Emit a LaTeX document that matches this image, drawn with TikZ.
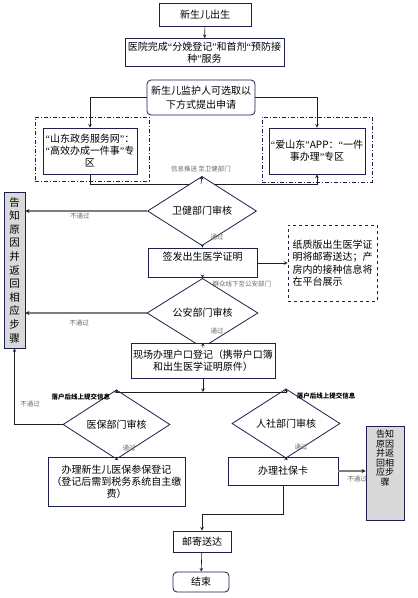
\documentclass[tikz,border=0pt]{standalone}
\usepackage{fontspec}
\setmainfont{Noto Sans CJK SC}
\newfontfamily\latinfont{Liberation Serif}
\usepackage{tikz}
\usetikzlibrary{positioning, arrows.meta, shapes.geometric, calc}
\definecolor{BorderColor}{RGB}{28,32,78}
\definecolor{FlowColor}{RGB}{30,30,30}
\definecolor{RejectColor}{RGB}{125,125,125}
\definecolor{NoteColor}{RGB}{105,105,105}
\definecolor{BackColor}{RGB}{217,217,217}
\newcommand{\oq}{{\latinfont “}}
\newcommand{\cq}{{\latinfont ”}}
\newcommand{\flownote}[1]{\textcolor{NoteColor}{\fontsize{6.5}{7}\selectfont #1}}
\tikzstyle{arrow} = [line width=0.6pt, FlowColor, ->, >=stealth]
\tikzstyle{reject} = [line width=1.3pt, RejectColor, -{Stealth[length=4pt, width=4pt, color=FlowColor]}]
\tikzstyle{box} = [rectangle, draw=BorderColor, line width=0.8pt, fill=white, align=center, inner sep=2pt, font=\fontsize{10}{12}\selectfont]
\tikzstyle{roundbox} = [box, rounded corners=4pt]
\tikzstyle{check} = [diamond, draw=BorderColor, line width=0.8pt, fill=white, inner sep=0pt, font=\fontsize{10}{12}\selectfont]
\tikzstyle{zone} = [rectangle, draw=BorderColor, line width=0.8pt, dash pattern=on 4pt off 2pt on 1pt off 2pt]
\tikzstyle{notebox} = [rectangle, draw=BorderColor, line width=0.8pt, dashed, align=left, inner sep=3pt, font=\fontsize{10}{12.5}\selectfont]
\tikzstyle{backbox} = [rectangle, draw=BorderColor, line width=0.8pt, fill=BackColor, align=center, inner sep=0pt]

\begin{document}
\begin{tikzpicture}[x=1pt, y=-1pt]
    \useasboundingbox (0,0) rectangle (418,598);
    % Birth and application
    \node[box, minimum width=92pt, minimum height=23pt] (birth) at (205,14.5) {新生儿出生};
    \node[box, minimum width=159pt, minimum height=28pt] (hospital) at (204.5,52.5) {医院完成\oq 分娩登记\cq 和首剂\oq 预防接\\种\cq 服务};
    \node[roundbox, minimum width=108pt, minimum height=35pt, font=\fontsize{10}{13.5}\selectfont] (guardian) at (201,97.5) {新生儿监护人可选取以\\下方式提出申请};
    \node[zone, minimum width=114pt, minimum height=64pt] (leftzone) at (92,149) {};
    \node[zone, minimum width=110pt, minimum height=65pt] (rightzone) at (317,149.5) {};
    \node[box, minimum width=94pt, minimum height=46pt] (webzone) at (90,151) {\oq 山东政务服务网\cq ：\\\oq 高效办成一件事\cq 专\\区};
    \node[box, minimum width=92pt, minimum height=46pt] (appzone) at (317,151) {\oq 爱山东\cq APP：\oq 一件\\事办理\cq 专区};
    \node (pushnote) at (201,169) {\flownote{信息推送 至卫健部门}};
    \coordinate (merge) at (201,184);
    \draw[arrow] (birth) -- (hospital);
    \draw[arrow] (guardian.west) -| (webzone.north);
    \draw[arrow] (guardian.east) -| (appzone.north);
    \draw[arrow] (webzone.south) |- (appzone.south |- merge) -- (appzone.south);

    % Health and police checks
    \node[check, minimum width=109pt, minimum height=32pt] (health) at (202,211) {卫健部门审核};
    \node[backbox, minimum width=21pt, minimum height=156pt, font=\fontsize{10.5}{13.6}\selectfont] (backleft) at (14.5,270) {告\\知\\原\\因\\并\\返\\回\\相\\应\\步\\骤};
    \node[box, minimum width=109pt, minimum height=29pt, text height=10pt, text depth=15pt] (issue) at (202.5,262.5) {签发出生医学证明};
    \node[notebox, minimum width=89pt, minimum height=76pt] (paper) at (332.5,263) {纸质版出生医学证\\明将邮寄送达；产\\房内的接种信息将\\在平台展示};
    \node[check, minimum width=111pt, minimum height=30pt] (police) at (202.5,313) {公安部门审核};
    \node[box, minimum width=144pt, minimum height=35pt, inner sep=1pt] (register) at (203,360.5) {现场办理户口登记（携带户口簿\\和出生医学证明原件）};
    \draw[arrow] (merge) -- (health.north);
    \draw[reject] (health.west) -- (health.west -| backleft.east);
    \draw[arrow] (health) -- (issue);
    \draw[arrow] (issue.east |- paper.west) -- (paper.west);
    \draw[arrow] (issue) -- (police);
    \draw[reject] (police.west) -- (police.west -| backleft.east);
    \draw[arrow] (police) -- (register);
    \node (healthno) at (80,216) {\flownote{不通过}};
    \node (healthyes) at (217,237) {\flownote{通过}};
    \node[anchor=west] (toPolice) at (209,284) {\flownote{群众线下至公安部门}};
    \node (policeno) at (79,323) {\flownote{不通过}};
    \node (policeyes) at (217,331) {\flownote{通过}};

    % Insurance and social security
    \coordinate (split) at (203,392);
    \node[check, minimum width=107pt, minimum height=33pt] (medical) at (116.5,424.5) {医保部门审核};
    \node[check, minimum width=108pt, minimum height=37pt] (social) at (286,423.5) {人社部门审核};
    \node[box, minimum width=137pt, minimum height=49pt] (medbox) at (116.5,481.5) {办理新生儿医保参保登记\\（登记后需到税务系统自主缴\\费）};
    \node[box, minimum width=110pt, minimum height=28pt] (card) at (283,471) {办理社保卡};
    \node[backbox, minimum width=38pt, minimum height=94pt] (backright) at (385,473) {};
    \node[anchor=north, align=center, inner sep=0pt, font=\fontsize{9}{9.5}\selectfont] (backtext) at (385,430) {告知\\原因\\并返\\回相\\应步\\骤};
    \draw[arrow] (register) -- (split);
    \draw[arrow] (split) -| (medical.north);
    \draw[arrow] (split) -| (social.north);
    \draw[arrow] (medical.west) -| (backleft.south);
    \draw[arrow] (medical) -- (medbox);
    \draw[arrow] (social.south) -- (social.south |- card.north);
    \draw[reject] (card.east) -- (card.east -| backright.west);
    \node[font=\fontsize{6.5}{7}\selectfont\bfseries] (medonline) at (81,397) {落户后线上提交信息};
    \node[font=\fontsize{6.5}{7}\selectfont\bfseries] (soconline) at (326,396) {落户后线上提交信息};
    \node (medicalno) at (30,404) {\flownote{不通过}};
    \node (medicalyes) at (129,448) {\flownote{通过}};
    \node (socialyes) at (301,447) {\flownote{通过}};
    \node (cardno) at (357,479) {\flownote{不通过}};

    % Delivery
    \coordinate (join) at (202,514);
    \node[box, minimum width=58pt, minimum height=21pt] (mail) at (202,541.5) {邮寄送达};
    \node[roundbox, minimum width=56pt, minimum height=20pt] (finish) at (201,582) {结束};
    \draw[arrow] (card.south) |- (join) -- (mail.north);
    \draw[arrow] (mail) -- (finish);
\end{tikzpicture}
\end{document}
